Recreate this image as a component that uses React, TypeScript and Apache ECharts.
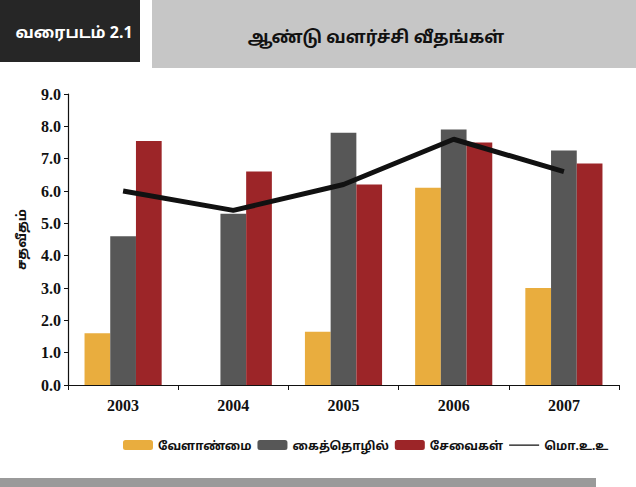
import React, { useEffect, useRef } from "react";
import * as echarts from "echarts";

const years = ["2003", "2004", "2005", "2006", "2007"];
const agriculture = [1.6, 0, 1.65, 6.1, 3.0];
const industry = [4.6, 5.3, 7.8, 7.9, 7.25];
const services = [7.55, 6.6, 6.2, 7.5, 6.85];
const gdp = [6.0, 5.4, 6.2, 7.6, 6.6];

const seriesNames = ["வேளாண்மை", "கைத்தொழில்", "சேவைகள்", "மொ.உ.உ"];
const yTicks = { min: 0, max: 9, interval: 1 };

const serif = "'Liberation Serif', 'DejaVu Serif', serif";
const tamil = "'Noto Sans', 'Noto Sans Tamil', 'Liberation Sans', sans-serif";
const thinLineIcon =
  "path://M0,0 L0.01,0 L0.01,0.01 Z M0,4.4 L30,4.4 L30,5.8 L0,5.8 Z M0,10 L0.01,10 L0.01,9.99 Z";

export default function App() {
  const ref = useRef<HTMLDivElement>(null);
  useEffect(() => {
    if (!ref.current) return;
    const chart = echarts.init(ref.current, undefined, { renderer: "svg" });
    chart.setOption({
      animation: false,
      backgroundColor: "#ffffff",
      graphic: [
        { type: "rect", shape: { x: 0, y: 0, width: 140, height: 62 }, style: { fill: "#262626" }, silent: true },
        { type: "rect", shape: { x: 152, y: 0, width: 484, height: 68 }, style: { fill: "#c6c6c6" }, silent: true },
        {
          type: "text", x: 74, y: 32,
          style: { text: "வரைபடம் 2.1", fill: "#ffffff", font: `bold 16px ${tamil}`, align: "center", verticalAlign: "middle" },
        },
        {
          type: "text", x: 376, y: 36,
          style: { text: "ஆண்டு வளர்ச்சி வீதங்கள்", fill: "#111111", font: `bold 17px ${tamil}`, align: "center", verticalAlign: "middle" },
        },
        { type: "rect", shape: { x: 0, y: 478, width: 596, height: 9 }, style: { fill: "#9a9a9a" }, silent: true },
      ],
      legend: {
        left: 118,
        top: 434,
        width: 510,
        itemWidth: 30,
        itemHeight: 10,
        itemGap: 6,
        textStyle: { fontFamily: tamil, fontSize: 12, fontWeight: "bold", color: "#111" },
        data: [
          { name: seriesNames[0] },
          { name: seriesNames[1] },
          { name: seriesNames[2] },
          { name: seriesNames[3], icon: thinLineIcon, itemStyle: { color: "#111" } },
        ],
      },
      grid: { left: 68, right: 17, top: 94, bottom: 102 },
      xAxis: {
        type: "category",
        data: years,
        boundaryGap: true,
        axisLine: { lineStyle: { color: "#111", width: 1.2 } },
        axisTick: { show: true, length: 5, lineStyle: { color: "#111" } },
        axisLabel: { fontFamily: serif, fontWeight: "bold", fontSize: 16, color: "#111", margin: 12 },
      },
      yAxis: {
        type: "value",
        min: yTicks.min,
        max: yTicks.max,
        interval: yTicks.interval,
        name: "சதவீதம்",
        nameLocation: "middle",
        nameGap: 41,
        nameTextStyle: { fontFamily: tamil, fontSize: 13, fontWeight: "bold", color: "#111" },
        axisLine: { show: true, lineStyle: { color: "#111", width: 1.2 } },
        axisTick: { show: true, length: 4, lineStyle: { color: "#111" } },
        splitLine: { show: false },
        axisLabel: {
          fontFamily: serif, fontWeight: "bold", fontSize: 16, color: "#111", margin: 7,
          formatter: (v: number) => v.toFixed(1),
        },
      },
      series: [
        { name: seriesNames[0], type: "bar", data: agriculture, barGap: "0%", barCategoryGap: "30%", itemStyle: { color: "#e9ad3e" } },
        { name: seriesNames[1], type: "bar", data: industry, barGap: "0%", barCategoryGap: "30%", itemStyle: { color: "#575757" } },
        { name: seriesNames[2], type: "bar", data: services, barGap: "0%", barCategoryGap: "30%", itemStyle: { color: "#9c2528" } },
        {
          name: seriesNames[3], type: "line", data: gdp, symbol: "none", z: 5,
          lineStyle: { color: "#111", width: 5 }, itemStyle: { color: "#111" },
        },
      ],
    });
    return () => chart.dispose();
  }, []);
  return (
    <div
      ref={ref}
      style={{ position: "fixed", left: 0, top: 0, width: 636, height: 487 }}
    />
  );
}
